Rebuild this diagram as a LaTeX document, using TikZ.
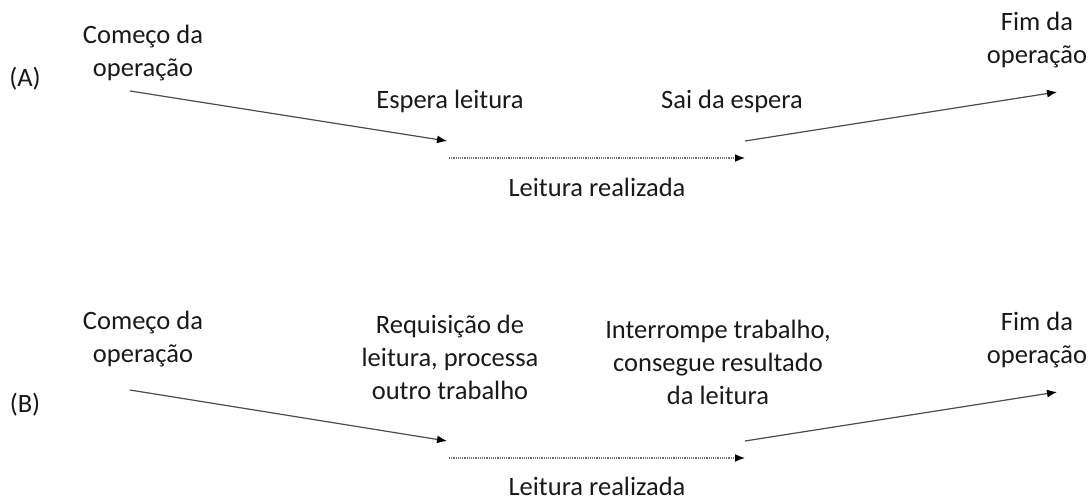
\documentclass[tikz,border=0pt]{standalone}
\usepackage{fontspec}
\setmainfont{Carlito}
\usetikzlibrary{arrows.meta}
\begin{document}
\begin{tikzpicture}[x=1pt,y=-1pt,
  lbl/.style={font=\fontsize{26.5}{33}\selectfont, align=center, inner sep=0pt, text=black!90},
  arr/.style={-{Latex[length=10pt,width=8pt,color=black]}, line width=1.2pt, draw=black!70},
  dotarr/.style={arr, densely dotted, line width=1.4pt, draw=black!55}]
\useasboundingbox (0,0) rectangle (1090,500);
% ---- (A) ----
\node[lbl] (labA) at (25,79) {(A)};
\node[lbl] (startA) at (143,53) {Começo da\\operação};
\node[lbl] (waitA) at (450,101) {Espera leitura};
\node[lbl] (leaveA) at (732,101) {Sai da espera};
\node[lbl] (endA) at (1037,40) {Fim da\\operação};
\node[lbl] (readA) at (597,187) {Leitura realizada};
\coordinate (a1) at (130,91);
\coordinate (a2) at (447,141);
\coordinate (a3) at (449,158);
\coordinate (a4) at (745,158);
\coordinate (a5) at (745,141);
\coordinate (a6) at (1057,92);
\draw[arr] (a1) -- (a2);
\draw[dotarr] (a3) -- (a4);
\draw[arr] (a5) -- (a6);
% ---- (B) ----
\node[lbl] (labB) at (25,405) {(B)};
\node[lbl] (startB) at (143,339) {Começo da\\operação};
\node[lbl] (waitB) at (450,357) {Requisição de\\leitura, processa\\outro trabalho};
\node[lbl] (leaveB) at (718,362) {Interrompe trabalho,\\consegue resultado\\da leitura};
\node[lbl] (endB) at (1037,340) {Fim da\\operação};
\node[lbl] (readB) at (597,486) {Leitura realizada};
\coordinate (b1) at (130,390);
\coordinate (b2) at (447,441);
\coordinate (b3) at (449,458);
\coordinate (b4) at (745,458);
\coordinate (b5) at (745,441);
\coordinate (b6) at (1057,392);
\draw[arr] (b1) -- (b2);
\draw[dotarr] (b3) -- (b4);
\draw[arr] (b5) -- (b6);
\end{tikzpicture}
\end{document}
